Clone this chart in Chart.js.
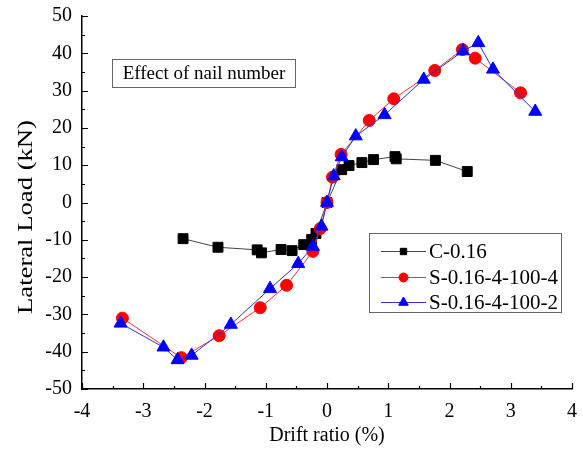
<!DOCTYPE html>
<html>
<head>
<meta charset="utf-8">
<script src="https://cdn.jsdelivr.net/npm/chart.js@4/dist/chart.umd.min.js"></script>
<style>
  html, body { margin: 0; padding: 0; background: #fff; }
  canvas { display: block; }
</style>
</head>
<body>
<canvas id="chart" width="583" height="457"></canvas>
<script>
// series names (legend)
const seriesNames = ['C-0.16', 'S-0.16-4-100-4', 'S-0.16-4-100-2'];

// C-0.16
const driftC = [-2.35, -1.78, -1.14, -1.07, -0.75, -0.57, -0.38, -0.25, -0.18, 0, 0.24, 0.36, 0.57, 0.76, 1.11, 1.13, 1.77, 2.29];
const loadC  = [-9.7, -12.0, -12.7, -13.5, -12.6, -12.9, -11.3, -9.9, -8.3, 0, 8.8, 9.9, 10.7, 11.5, 12.3, 11.7, 11.3, 8.3];

// S-0.16-4-100-4
const driftS4 = [-3.34, -2.38, -1.76, -1.09, -0.66, -0.23, -0.11, 0, 0.09, 0.23, 0.69, 1.09, 1.76, 2.21, 2.42, 3.16];
const loadS4  = [-31.0, -41.6, -35.7, -28.2, -22.2, -13.1, -7.0, 0, 6.8, 12.9, 22.0, 27.8, 35.4, 41.0, 38.7, 29.4];

// S-0.16-4-100-2
const driftS2 = [-3.37, -2.67, -2.44, -2.21, -1.57, -0.93, -0.47, -0.23, -0.09, 0, 0.11, 0.24, 0.47, 0.94, 1.58, 2.22, 2.47, 2.71, 3.40];
const loadS2  = [-32.4, -38.8, -42.2, -41.0, -32.7, -23.1, -16.4, -11.8, -6.4, 0, 7.1, 12.2, 17.8, 23.5, 33.0, 40.6, 42.8, 35.7, 24.4];

const xTitle = 'Drift ratio (%)';
const yTitle = 'Lateral Load (kN)';
const noteText = 'Effect of nail number';

const serif = "'Liberation Serif', 'Times New Roman', serif";
Chart.defaults.font.family = serif;
Chart.defaults.color = '#000';

const toPoints = (xs, ys) => xs.map((x, i) => ({ x, y: ys[i] }));

const styles = [
  { line: '#444', fill: '#000', pointStyle: 'rect', radius: 7, legendRadius: 4.5 },
  { line: '#e33', fill: '#f00', pointStyle: 'circle', radius: 6, legendRadius: 4.5 },
  { line: '#33c', fill: '#00f', pointStyle: 'triangle', radius: 7.5, legendRadius: 5.5 }
];

const seriesData = [
  toPoints(driftC, loadC),
  toPoints(driftS4, loadS4),
  toPoints(driftS2, loadS2)
];

/** 内向きの目盛り・凡例・注記・軸タイトル */
const decorations = {
  id: 'decorations',
  afterDraw(chart) {
    const { ctx, chartArea: area, scales: { x, y } } = chart;
    ctx.save();

    // inward major/minor ticks
    ctx.strokeStyle = '#000';
    ctx.lineWidth = 1.2;
    ctx.beginPath();
    for (let v = x.min; v <= x.max + 1e-9; v += 0.5) {
      const px = Math.round(x.getPixelForValue(v)) + 0.5;
      const len = Number.isInteger(v) ? 6 : 3;
      ctx.moveTo(px, area.bottom);
      ctx.lineTo(px, area.bottom - len);
    }
    for (let v = y.min; v <= y.max + 1e-9; v += 5) {
      const py = Math.round(y.getPixelForValue(v)) + 0.5;
      const len = v % 10 === 0 ? 6 : 3;
      ctx.moveTo(area.left, py);
      ctx.lineTo(area.left + len, py);
    }
    ctx.stroke();

    // note box
    ctx.strokeStyle = '#666';
    ctx.lineWidth = 1;
    ctx.strokeRect(112.5, 59.5, 183, 28);
    ctx.fillStyle = '#000';
    ctx.font = `19px ${serif}`;
    ctx.textAlign = 'center';
    ctx.textBaseline = 'middle';
    ctx.fillText(noteText, 204, 74);

    // legend
    ctx.strokeStyle = '#666';
    ctx.strokeRect(369.5, 233.5, 192, 79);
    ctx.font = `21px ${serif}`;
    ctx.textAlign = 'left';
    const rows = [251, 277, 302];
    seriesNames.forEach((name, i) => {
      const s = styles[i];
      const ry = rows[i];
      ctx.strokeStyle = s.line;
      ctx.lineWidth = 1;
      ctx.beginPath();
      ctx.moveTo(381, ry + 0.5);
      ctx.lineTo(426, ry + 0.5);
      ctx.stroke();
      ctx.fillStyle = s.fill;
      ctx.strokeStyle = s.fill;
      Chart.helpers.drawPoint(ctx, { pointStyle: s.pointStyle, radius: s.legendRadius, rotation: 0, borderWidth: 1 }, 403.5, ry + 0.5);
      ctx.fillStyle = '#000';
      ctx.fillText(name, 429, ry + 1);
    });

    // axis titles
    ctx.fillStyle = '#000';
    ctx.textAlign = 'center';
    ctx.textBaseline = 'middle';
    ctx.font = `20px ${serif}`;
    ctx.fillText(xTitle, 327, 436);

    ctx.translate(26, 217);
    ctx.rotate(-Math.PI / 2);
    ctx.scale(1.27, 1);
    ctx.font = `21px ${serif}`;
    ctx.fillText(yTitle, 0, 0);

    ctx.restore();
  }
};

new Chart(document.getElementById('chart'), {
  type: 'scatter',
  data: {
    datasets: seriesData.map((data, i) => ({
      label: seriesNames[i],
      data,
      showLine: true,
      borderColor: styles[i].line,
      borderWidth: 1,
      backgroundColor: styles[i].fill,
      pointBackgroundColor: styles[i].fill,
      pointBorderColor: styles[i].fill,
      pointBorderWidth: 1,
      pointStyle: styles[i].pointStyle,
      pointRadius: styles[i].radius,
      pointHoverRadius: styles[i].radius,
      order: 3 - i
    }))
  },
  options: {
    responsive: false,
    animation: false,
    layout: { padding: { top: 16, right: 11, left: 0, bottom: 0 } },
    plugins: {
      legend: { display: false },
      tooltip: { enabled: false }
    },
    scales: {
      x: {
        type: 'linear',
        min: -4,
        max: 4,
        ticks: { stepSize: 1, padding: 11, color: '#000', font: { size: 20 } },
        grid: { drawOnChartArea: false, drawTicks: false },
        border: { color: '#000', width: 1.5 },
        afterFit: (scale) => {
          scale.height = 68;
          scale.paddingLeft = 0;
          scale.paddingRight = 0;
        }
      },
      y: {
        type: 'linear',
        min: -50,
        max: 50,
        ticks: { stepSize: 10, padding: 10, color: '#000', font: { size: 20 } },
        grid: { drawOnChartArea: false, drawTicks: false },
        border: { color: '#000', width: 1.5 },
        afterFit: (scale) => {
          scale.width = 82;
          scale.paddingTop = 0;
          scale.paddingBottom = 0;
        }
      }
    }
  },
  plugins: [decorations]
});
</script>
</body>
</html>
